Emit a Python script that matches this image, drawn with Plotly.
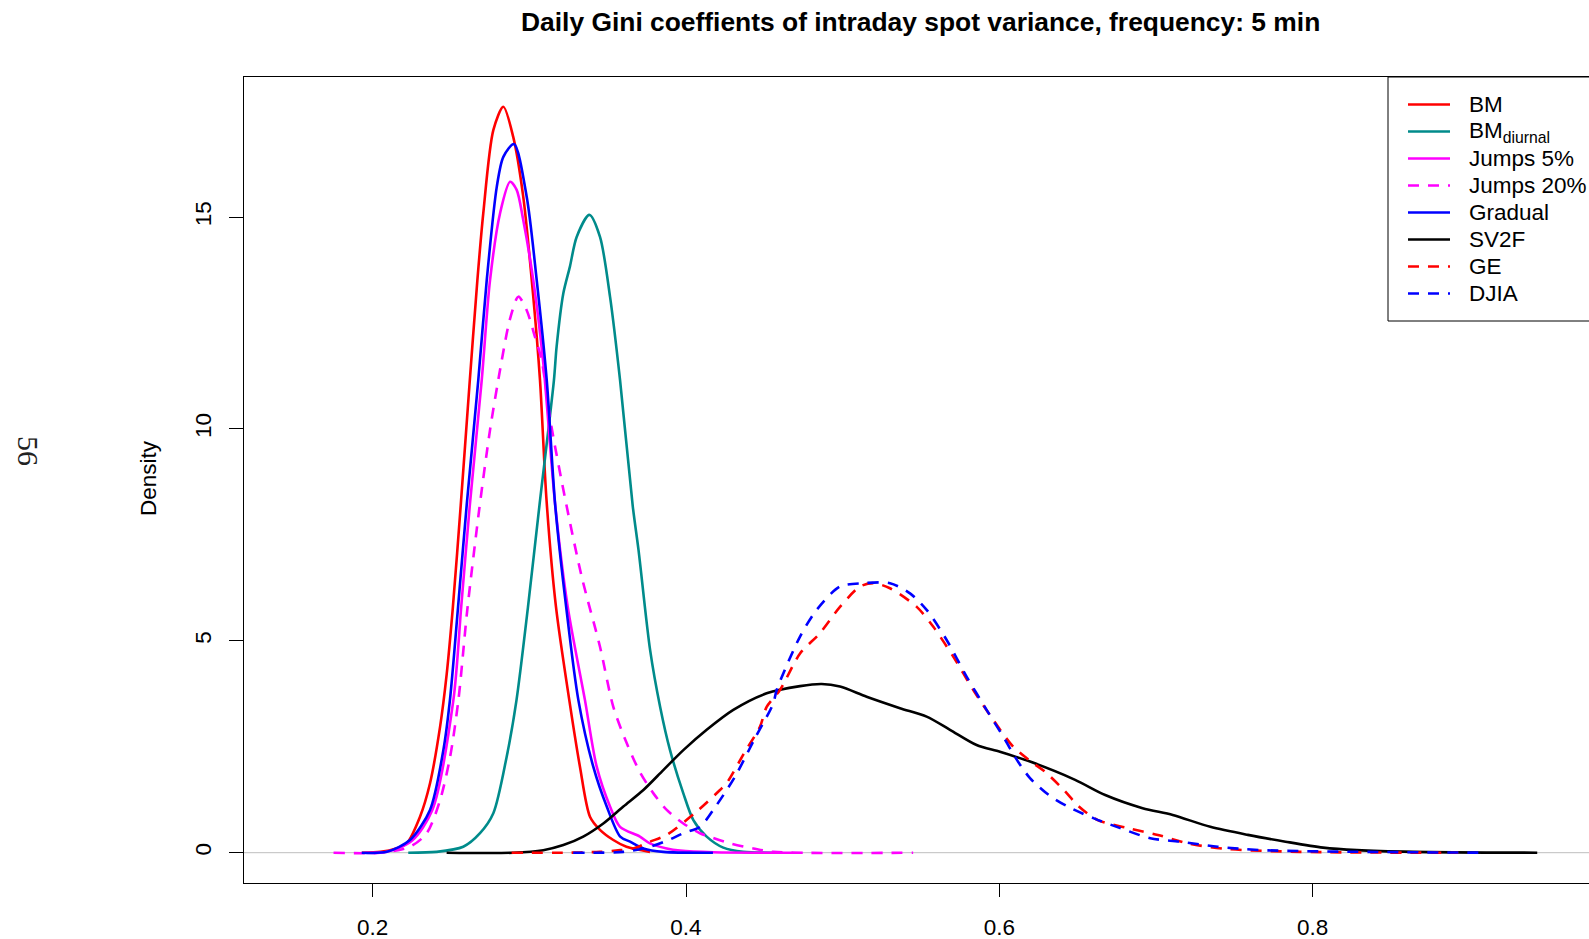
import plotly.graph_objects as go

# Kernel density estimates of daily Gini coefficients (5-minute spot variance)
bm_x = [0.193, 0.205, 0.2150, 0.2217, 0.2302, 0.2366, 0.2430, 0.2472, 0.2512, 0.2562, 0.2617,
        0.2668, 0.2706, 0.2770, 0.2834, 0.2897, 0.2961, 0.3025, 0.3068, 0.3110, 0.3170, 0.3255,
        0.3323, 0.3387, 0.3451, 0.3536, 0.3620, 0.3770]
bm_y = [0.0, 0.02, 0.10, 0.22, 0.85, 1.64, 2.97, 4.20, 5.80, 8.20, 11.00,
        13.50, 15.09, 17.05, 17.60, 16.89, 15.48, 13.12, 11.15, 8.30, 5.80, 3.60,
        2.03, 0.85, 0.54, 0.30, 0.14, 0.02]

diurnal_x = [0.2227, 0.2408, 0.2578, 0.2685, 0.2770, 0.2855, 0.2918, 0.2991, 0.3064, 0.3157,
             0.3174, 0.3217, 0.3259, 0.3302, 0.3383, 0.3451, 0.3515, 0.3579, 0.3660, 0.3697,
             0.3771, 0.3835, 0.3898, 0.3983, 0.4047, 0.4132, 0.4238, 0.4365, 0.4600]
diurnal_y = [0.0, 0.02, 0.14, 0.46, 0.93, 2.26, 3.60, 5.79, 8.18, 11.15,
             11.94, 13.20, 13.83, 14.53, 15.05, 14.53, 13.12, 11.15, 8.18, 7.14,
             4.78, 3.44, 2.42, 1.40, 0.77, 0.38, 0.12, 0.02, 0.0]

j5_x = [0.195, 0.209, 0.225, 0.238, 0.2515, 0.2565, 0.2620, 0.2696, 0.2749, 0.2813, 0.2877,
        0.2919, 0.2961, 0.3025, 0.3089, 0.3165, 0.3245, 0.3355, 0.3430, 0.3515, 0.3579,
        0.3706, 0.3770, 0.3877, 0.3962, 0.4174, 0.4680]
j5_y = [0.0, 0.02, 0.28, 1.00, 3.60, 5.80, 8.20, 11.15, 13.51, 15.09, 15.83,
        15.64, 14.93, 13.51, 11.55, 8.20, 5.80, 3.60, 2.03, 1.09, 0.61,
        0.38, 0.22, 0.10, 0.05, 0.01, 0.0]

j20_x = [0.175, 0.2047, 0.2238, 0.2345, 0.2430, 0.2494, 0.2547, 0.2603, 0.2680, 0.2750, 0.2823,
         0.2877, 0.2930, 0.2983, 0.3036, 0.3078, 0.3139, 0.3238, 0.3335, 0.3451, 0.3536,
         0.3622, 0.3706, 0.3792, 0.3877, 0.3983, 0.4089, 0.4132, 0.4280, 0.4430, 0.4557, 0.5450]
j20_y = [0.0, 0.0, 0.14, 0.46, 1.24, 2.26, 3.60, 5.70, 8.10, 10.00, 11.60,
         12.60, 13.12, 12.80, 12.17, 11.63, 10.10, 8.18, 6.50, 4.86, 3.44,
         2.58, 1.90, 1.40, 1.01, 0.69, 0.46, 0.40, 0.22, 0.10, 0.02, 0.0]

grad_x = [0.193, 0.209, 0.2238, 0.2366, 0.2451, 0.2493, 0.2545, 0.2600, 0.2674, 0.2728, 0.2792,
          0.2834, 0.2902, 0.2983, 0.3047, 0.3111, 0.3165, 0.3235, 0.3313, 0.3408, 0.3494,
          0.3580, 0.3643, 0.3728, 0.3855, 0.4172]
grad_y = [0.0, 0.02, 0.30, 1.01, 2.42, 3.60, 5.80, 8.20, 11.15, 13.51, 15.71,
          16.42, 16.72, 15.48, 13.51, 11.15, 8.20, 5.80, 3.60, 2.03, 1.09,
          0.38, 0.26, 0.10, 0.02, 0.0]

sv2f_x = [0.2472, 0.2898, 0.3089, 0.3217, 0.3344, 0.3472, 0.3600, 0.3728, 0.3855, 0.3983,
          0.4132, 0.4302, 0.4515, 0.4728, 0.4866, 0.4983, 0.5153, 0.5366, 0.5536, 0.5685,
          0.5855, 0.6004, 0.6196, 0.6484, 0.6676, 0.6915, 0.7107, 0.7347, 0.7587, 0.7827,
          0.8067, 0.8283, 0.8642, 0.9434]
sv2f_y = [0.0, 0.0, 0.06, 0.18, 0.38, 0.69, 1.09, 1.48, 1.95, 2.42,
          2.90, 3.37, 3.76, 3.93, 3.98, 3.92, 3.68, 3.41, 3.21, 2.90,
          2.54, 2.38, 2.15, 1.72, 1.36, 1.05, 0.89, 0.61, 0.42, 0.26,
          0.12, 0.06, 0.02, 0.0]

ge_x = [0.2887, 0.3217, 0.3451, 0.3580, 0.3664, 0.3770, 0.3877, 0.4080, 0.4217, 0.4259,
        0.4376, 0.4472, 0.4515, 0.4600, 0.4728, 0.4855, 0.4983, 0.5111, 0.5196, 0.5302,
        0.5473, 0.5579, 0.5707, 0.5834, 0.5962, 0.6089, 0.6217, 0.6292, 0.6412, 0.6508,
        0.6628, 0.6820, 0.7012, 0.7204, 0.7443, 0.7923, 0.8930]
ge_y = [0.0, 0.0, 0.02, 0.06, 0.10, 0.26, 0.42, 1.01, 1.48, 1.64,
        2.38, 2.97, 3.44, 3.84, 4.70, 5.18, 5.80, 6.28, 6.36, 6.24,
        5.80, 5.33, 4.62, 3.84, 3.13, 2.50, 2.11, 1.91, 1.48, 1.09,
        0.77, 0.58, 0.42, 0.22, 0.09, 0.02, 0.0]

djia_x = [0.3280, 0.3600, 0.3770, 0.3877, 0.3983, 0.4089, 0.4174, 0.4312, 0.4440, 0.4557,
          0.4579, 0.4728, 0.4834, 0.4983, 0.5132, 0.5302, 0.5430, 0.5536, 0.5664, 0.5792,
          0.5919, 0.6038, 0.6100, 0.6196, 0.6316, 0.6436, 0.6604, 0.6772, 0.6964, 0.7156,
          0.7395, 0.7684, 0.9098]
djia_y = [0.0, 0.02, 0.14, 0.28, 0.46, 0.61, 1.01, 1.79, 2.70, 3.52,
          3.84, 5.10, 5.73, 6.28, 6.36, 6.36, 6.12, 5.73, 5.02, 4.15,
          3.37, 2.66, 2.26, 1.76, 1.36, 1.09, 0.81, 0.58, 0.34, 0.26,
          0.14, 0.06, 0.0]

series_names = ["BM", "BM<sub>diurnal</sub>", "Jumps 5%", "Jumps 20%", "Gradual", "SV2F", "GE", "DJIA"]
series_x = [bm_x, diurnal_x, j5_x, j20_x, grad_x, sv2f_x, ge_x, djia_x]
series_y = [bm_y, diurnal_y, j5_y, j20_y, grad_y, sv2f_y, ge_y, djia_y]
series_colors = ["#FF0000", "#008B8B", "#FF00FF", "#FF00FF", "#0000FF", "#000000", "#FF0000", "#0000FF"]
series_dash = ["solid", "solid", "solid", "dash", "solid", "solid", "dash", "dash"]

x_ticks = [0.2, 0.4, 0.6, 0.8]
y_ticks = [0, 5, 10, 15]

W, H = 1589, 939
L, R, T, B = 244, 0, 77, 56
plot_w = W - L - R
plot_h = H - T - B

DASH = "11px,9px"
FONT = "Liberation Sans, Arial, sans-serif"
TXT = 22.5


def px_x(p):
    return (p - L) / plot_w


def px_y(p):
    return (H - B - p) / plot_h


fig = go.Figure()

for name, xs, ys, col, dsh in zip(series_names, series_x, series_y, series_colors, series_dash):
    fig.add_trace(go.Scatter(
        x=xs, y=ys, mode="lines", name=name, showlegend=False,
        line=dict(color=col, width=2.6, dash=DASH if dsh == "dash" else "solid",
                  shape="spline", smoothing=0.8),
        hoverinfo="skip",
    ))

shapes = [
    # baseline at zero density
    dict(type="line", xref="paper", yref="y", x0=0, x1=1, y0=0, y1=0,
         line=dict(color="#BEBEBE", width=1), layer="below"),
    # legend frame (runs off the right edge)
    dict(type="rect", xref="paper", yref="paper", x0=px_x(1388), x1=1.05,
         y0=px_y(321), y1=1, line=dict(color="black", width=1), fillcolor="rgba(0,0,0,0)"),
]

annotations = []
row0, step = 104.5, 27.0
for i, (name, col, dsh) in enumerate(zip(series_names, series_colors, series_dash)):
    yy = px_y(row0 + i * step)
    shapes.append(dict(type="line", xref="paper", yref="paper",
                       x0=px_x(1408), x1=px_x(1450), y0=yy, y1=yy,
                       line=dict(color=col, width=2.6, dash=DASH if dsh == "dash" else "solid")))
    annotations.append(dict(xref="paper", yref="paper", x=px_x(1467), y=yy,
                            xanchor="left", yanchor="middle", text=name, showarrow=False,
                            font=dict(family=FONT, size=TXT, color="black")))

annotations += [
    dict(xref="paper", yref="paper", x=px_x(920), y=px_y(22), xanchor="center", yanchor="middle",
         text="<b>Daily Gini coeffients of intraday spot variance, frequency: 5 min</b>",
         showarrow=False, font=dict(family=FONT, size=26.4, color="black")),
    dict(xref="paper", yref="paper", x=px_x(148), y=px_y(478), xanchor="center", yanchor="middle",
         text="Density", textangle=-90, showarrow=False,
         font=dict(family=FONT, size=TXT, color="black")),
    dict(xref="paper", yref="paper", x=px_x(29), y=px_y(451), xanchor="center", yanchor="middle",
         text="56", textangle=90, showarrow=False,
         font=dict(family="Liberation Serif, serif", size=30, color="#222222")),
]

fig.update_layout(
    width=W, height=H,
    margin=dict(l=L, r=R, t=T, b=B, pad=0),
    paper_bgcolor="white", plot_bgcolor="white",
    showlegend=False,
    shapes=shapes, annotations=annotations,
    xaxis=dict(range=[(244 - 59.4) / 1566.5, (1589 - 59.4) / 1566.5],
               tickvals=x_ticks, ticktext=[str(v) for v in x_ticks],
               ticks="outside", ticklen=13, tickwidth=1, tickcolor="black",
               showline=True, linecolor="black", linewidth=1, mirror=True,
               showgrid=False, zeroline=False, ticklabelstandoff=11,
               tickfont=dict(family=FONT, size=TXT, color="black")),
    yaxis=dict(range=[(852.7 - 883) / 42.38, (852.7 - 77) / 42.38],
               tickvals=y_ticks, ticktext=[str(v) for v in y_ticks],
               ticks="outside", ticklen=14, tickwidth=1, tickcolor="black",
               tickangle=-90, showline=True, linecolor="black", linewidth=1, mirror=False,
               showgrid=False, zeroline=False, ticklabelstandoff=9,
               tickfont=dict(family=FONT, size=TXT, color="black")),
)

fig.write_html("out.html")
